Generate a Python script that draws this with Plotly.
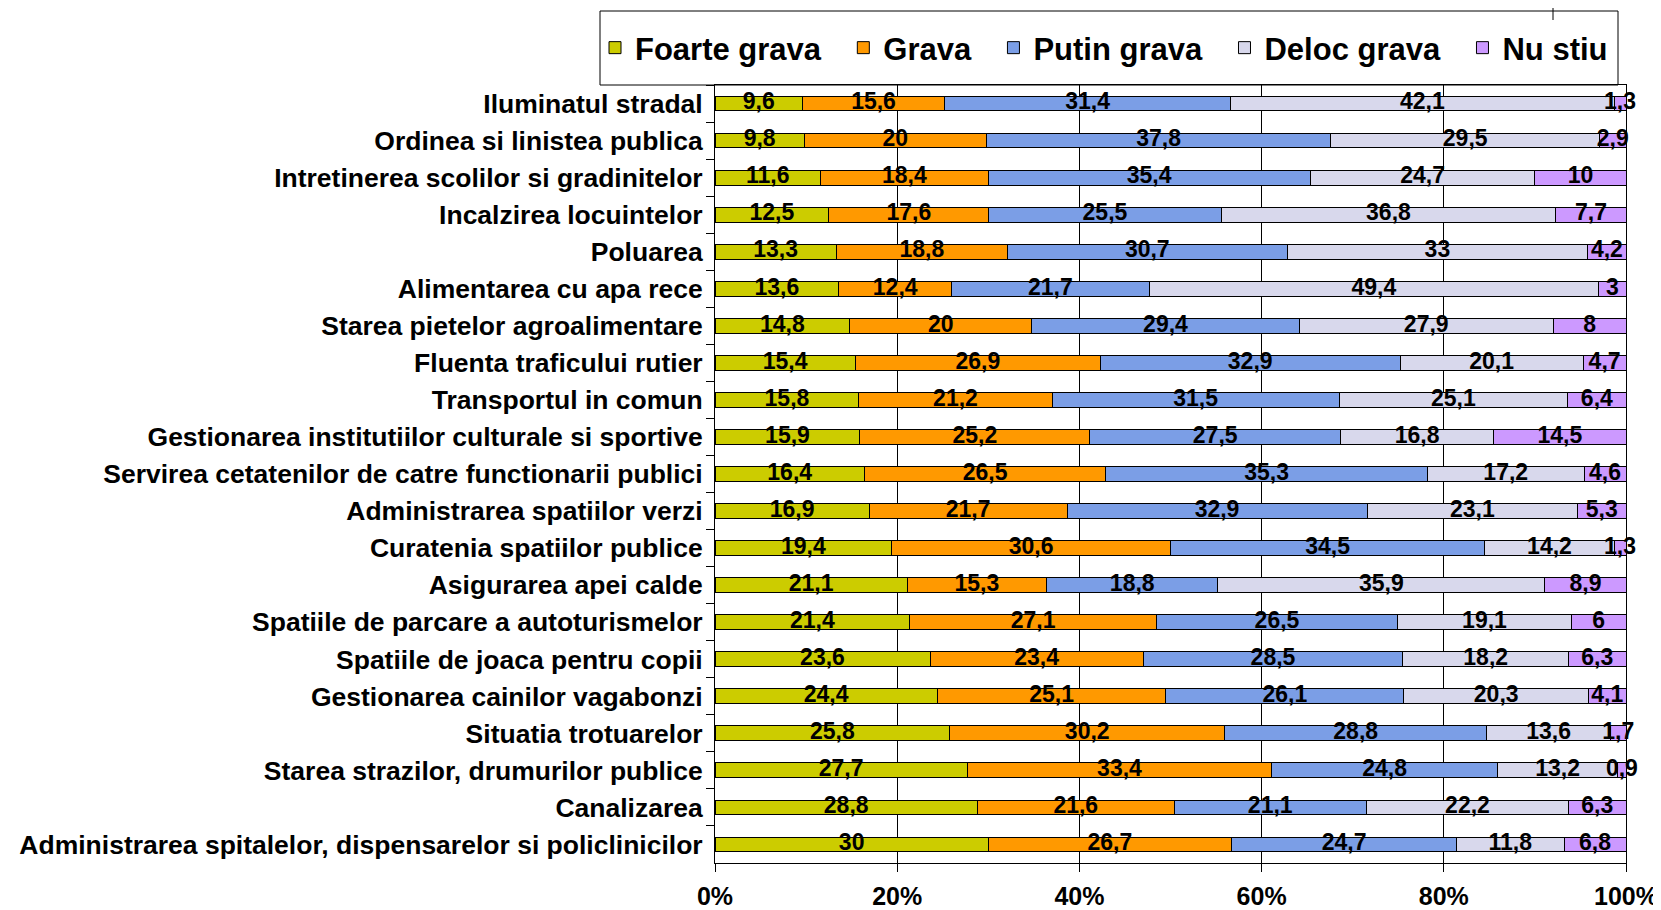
import plotly.graph_objects as go

categories = [
    "Iluminatul stradal",
    "Ordinea si linistea publica",
    "Intretinerea scolilor si gradinitelor",
    "Incalzirea locuintelor",
    "Poluarea",
    "Alimentarea cu apa rece",
    "Starea pietelor agroalimentare",
    "Fluenta traficului rutier",
    "Transportul in comun",
    "Gestionarea institutiilor culturale si sportive",
    "Servirea cetatenilor de catre functionarii publici",
    "Administrarea spatiilor verzi",
    "Curatenia spatiilor publice",
    "Asigurarea apei calde",
    "Spatiile de parcare a autoturismelor",
    "Spatiile de joaca pentru copii",
    "Gestionarea cainilor vagabonzi",
    "Situatia trotuarelor",
    "Starea strazilor, drumurilor publice",
    "Canalizarea",
    "Administrarea spitalelor, dispensarelor si policlinicilor",
]

foarte_grava = [9.6, 9.8, 11.6, 12.5, 13.3, 13.6, 14.8, 15.4, 15.8, 15.9, 16.4, 16.9, 19.4, 21.1, 21.4, 23.6, 24.4, 25.8, 27.7, 28.8, 30]
grava = [15.6, 20, 18.4, 17.6, 18.8, 12.4, 20, 26.9, 21.2, 25.2, 26.5, 21.7, 30.6, 15.3, 27.1, 23.4, 25.1, 30.2, 33.4, 21.6, 26.7]
putin_grava = [31.4, 37.8, 35.4, 25.5, 30.7, 21.7, 29.4, 32.9, 31.5, 27.5, 35.3, 32.9, 34.5, 18.8, 26.5, 28.5, 26.1, 28.8, 24.8, 21.1, 24.7]
deloc_grava = [42.1, 29.5, 24.7, 36.8, 33, 49.4, 27.9, 20.1, 25.1, 16.8, 17.2, 23.1, 14.2, 35.9, 19.1, 18.2, 20.3, 13.6, 13.2, 22.2, 11.8]
nu_stiu = [1.3, 2.9, 10, 7.7, 4.2, 3, 8, 4.7, 6.4, 14.5, 4.6, 5.3, 1.3, 8.9, 6, 6.3, 4.1, 1.7, 0.9, 6.3, 6.8]

series_names = ["Foarte grava", "Grava", "Putin grava", "Deloc grava", "Nu stiu"]
series_values = [foarte_grava, grava, putin_grava, deloc_grava, nu_stiu]
colors = ["#CCCC00", "#FF9900", "#7B9EE6", "#D8D8EC", "#CC99FF"]
tick_vals = [0, 20, 40, 60, 80, 100]
tick_text = ["0%", "20%", "40%", "60%", "80%", "100%"]

FONT = "Liberation Sans, Arial, sans-serif"
PAD = "\u00a0\u00a0"

fig = go.Figure()

# stacked bars (normalised to 100 %)
for name, vals, col in zip(series_names, series_values, colors):
    fig.add_trace(go.Bar(
        name=name + PAD,
        y=categories,
        x=vals,
        orientation="h",
        marker=dict(color=col, line=dict(color="#000000", width=1)),
        textposition="none",
        hoverinfo="skip",
    ))

# value labels centred on each segment
totals = [sum(row) for row in zip(*series_values)]
cum = [0.0] * len(categories)
for vals in series_values:
    mids = []
    for i, v in enumerate(vals):
        mids.append((cum[i] + v / 2.0) / totals[i] * 100.0)
        cum[i] += v
    fig.add_trace(go.Scatter(
        x=mids,
        y=categories,
        mode="text",
        text=[("{:g}".format(v)).replace(".", ",") for v in vals],
        textposition="middle center",
        textfont=dict(family=FONT, size=23, color="black", weight="bold"),
        cliponaxis=False,
        showlegend=False,
        hoverinfo="skip",
    ))

W, H = 1653, 902
L, T, PW, PH = 707, 77, 911, 778

def px_x(x):
    return (x - L) / PW

def px_y(y):
    return (T + PH - y) / PH

fig.update_layout(
    template="none",
    barmode="stack",
    barnorm="percent",
    bargap=0.6,
    width=W,
    height=H,
    margin=dict(l=L, r=W - L - PW, t=T, b=H - T - PH, pad=0),
    plot_bgcolor="white",
    paper_bgcolor="white",
    font=dict(family=FONT, size=26, color="black", weight="bold"),
    showlegend=True,
    legend=dict(
        orientation="h",
        x=px_x(587), xanchor="left",
        y=px_y(40), yanchor="middle",
        borderwidth=0,
        bgcolor="rgba(0,0,0,0)",
        font=dict(family=FONT, size=31, color="black", weight="bold"),
        traceorder="normal",
    ),
    xaxis=dict(
        range=[0, 100],
        tickmode="array",
        tickvals=tick_vals,
        ticktext=tick_text,
        showgrid=True,
        gridcolor="black",
        gridwidth=1,
        zeroline=False,
        showline=True,
        linecolor="black",
        linewidth=1,
        mirror=True,
        ticks="outside",
        ticklen=8,
        tickcolor="black",
        ticklabelstandoff=3,
        automargin=False,
        tickfont=dict(family=FONT, size=25, color="black", weight="bold"),
    ),
    yaxis=dict(
        range=[len(categories) - 0.5, -0.5],
        autorange=False,
        showgrid=False,
        zeroline=False,
        showline=True,
        linecolor="black",
        linewidth=1,
        mirror=True,
        ticks="outside",
        ticklen=8,
        tickcolor="black",
        tickson="boundaries",
        ticklabelstandoff=6,
        automargin=False,
        tickfont=dict(family=FONT, size=26.5, color="black", weight="bold"),
    ),
    shapes=[
        dict(type="rect", xref="paper", yref="paper",
             x0=px_x(592), x1=px_x(1610), y0=px_y(77), y1=px_y(3),
             line=dict(color="black", width=1), fillcolor="white", layer="below"),
        dict(type="line", xref="paper", yref="paper",
             x0=px_x(1545), x1=px_x(1545), y0=px_y(0), y1=px_y(12),
             line=dict(color="black", width=1)),
    ],
)

fig.write_html("out.html")
